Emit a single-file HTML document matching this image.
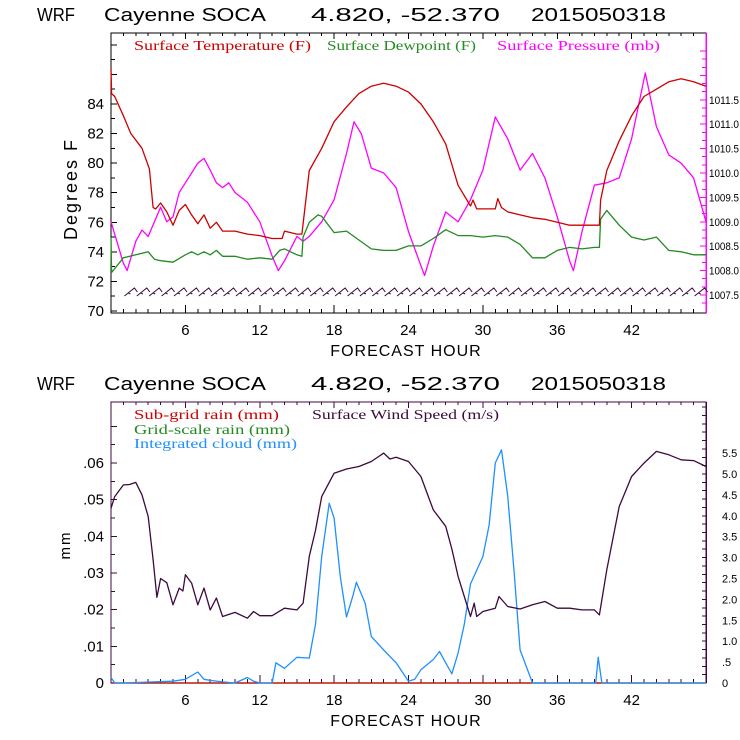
<!DOCTYPE html>
<html><head><meta charset="utf-8"><style>
html,body{margin:0;padding:0;background:#fff;}
svg{display:block;}
.t{font-family:"Liberation Sans",sans-serif;fill:#000;}
.lg{font-family:"Liberation Serif",serif;font-size:14px;}
</style></head><body>
<svg id="c" width="740" height="740" viewBox="0 0 740 740" xmlns="http://www.w3.org/2000/svg">
<g class="t" font-size="18">
<text x="37" y="21" textLength="38" lengthAdjust="spacingAndGlyphs">WRF</text>
<text x="104" y="21" textLength="162" lengthAdjust="spacingAndGlyphs">Cayenne SOCA</text>
<text x="311" y="21" textLength="189" lengthAdjust="spacingAndGlyphs">4.820, -52.370</text>
<text x="531" y="21" textLength="135" lengthAdjust="spacingAndGlyphs">2015050318</text>
</g>
<g class="t" font-size="18">
<text x="37" y="390" textLength="38" lengthAdjust="spacingAndGlyphs">WRF</text>
<text x="104" y="390" textLength="162" lengthAdjust="spacingAndGlyphs">Cayenne SOCA</text>
<text x="311" y="390" textLength="189" lengthAdjust="spacingAndGlyphs">4.820, -52.370</text>
<text x="531" y="390" textLength="135" lengthAdjust="spacingAndGlyphs">2015050318</text>
</g>
<text class="lg" x="134" y="50" fill="#cc0000" textLength="177" lengthAdjust="spacingAndGlyphs">Surface Temperature (F)</text>
<text class="lg" x="327" y="50" fill="#228b22" textLength="149" lengthAdjust="spacingAndGlyphs">Surface Dewpoint (F)</text>
<text class="lg" x="497" y="50" fill="#ff00ff" textLength="163" lengthAdjust="spacingAndGlyphs">Surface Pressure (mb)</text>
<text class="lg" x="134" y="419" fill="#cc0000" textLength="145" lengthAdjust="spacingAndGlyphs">Sub-grid rain (mm)</text>
<text class="lg" x="312" y="419" fill="#3c0a3c" textLength="187" lengthAdjust="spacingAndGlyphs">Surface Wind Speed (m/s)</text>
<text class="lg" x="134" y="434" fill="#228b22" textLength="156" lengthAdjust="spacingAndGlyphs">Grid-scale rain (mm)</text>
<text class="lg" x="134" y="448" fill="#1e90ff" textLength="163" lengthAdjust="spacingAndGlyphs">Integrated cloud (mm)</text>
<text class="t" transform="translate(77,189) rotate(-90)" text-anchor="middle" font-size="18" letter-spacing="2">Degrees F</text>
<text class="t" transform="translate(70,545) rotate(-90)" text-anchor="middle" font-size="15" letter-spacing="2">mm</text>
<text class="t" x="406" y="356" text-anchor="middle" font-size="16" letter-spacing="1">FORECAST HOUR</text>
<text class="t" x="406" y="726" text-anchor="middle" font-size="16" letter-spacing="1">FORECAST HOUR</text>
</svg>
<script>
const xTickLabels = [6,12,18,24,30,36,42];
const tempTicks = [70,72,74,76,78,80,82,84];
const presTicks = ['1007.5','1008.0','1008.5','1009.0','1009.5','1010.0','1010.5','1011.0','1011.5'];
const mmTicks = ['0','.01','.02','.03','.04','.05','.06'];
const windTicks = ['0','.5','1.0','1.5','2.0','2.5','3.0','3.5','4.0','4.5','5.0','5.5'];

const tempHours = [0,0.05,0.3,1,1.6,2.5,3.1,3.4,3.6,4,4.5,5,5.5,6,6.5,7,7.5,8,8.5,9,10,11,12,13,13.8,14,15,15.4,16,17,18,19,20,21,22,23,24,25,26,27,28,29,29.2,29.5,30,31,31.2,31.5,32,33,34,35,36,37,38,39,39.4,39.5,40,41,42,43,44,45,46,47,48];
const tempVals  = [86.4,84.7,84.5,83.2,82,81,79.6,77,76.9,77.3,76.7,75.8,76.8,77.2,76.5,75.9,76.5,75.6,76,75.4,75.4,75.2,75.1,74.9,74.9,75.4,75.2,75.2,79.5,81,82.8,83.8,84.7,85.2,85.4,85.2,84.8,84,82.8,81.3,78.5,77.1,77.5,76.9,76.9,76.9,77.6,77,76.7,76.5,76.3,76.2,76,75.8,75.8,75.8,75.8,77.5,79.5,81.5,83.2,84.5,85,85.5,85.7,85.5,85.2];
const dewHours = [0,0.05,1,2,3,3.5,4,5,6,6.5,7,7.5,8,8.5,9,10,11,12,13,13.6,14,15,15.4,15.5,16,16.7,17,18,19,20,21,22,23,24,25,26,27,28,29,30,31,32,33,34,35,36,37,38,39,39.4,39.5,40,41,42,43,44,45,46,47,48];
const dewVals  = [75,72.6,73.6,73.8,74,73.5,73.4,73.3,73.8,74,73.8,74,73.8,74.1,73.7,73.7,73.5,73.6,73.5,74.1,74.2,73.8,73.7,75,76,76.5,76.4,75.3,75.4,74.8,74.2,74.1,74.1,74.4,74.4,74.9,75.5,75.1,75.1,75,75.1,75,74.5,73.6,73.6,74.1,74.3,74.2,74.3,74.3,76.2,76.8,75.8,75,74.8,75,74.1,74,73.8,73.8];
const presHours = [0,1,1.3,2,2.5,3,4,4.5,5,5.5,6,6.5,7,7.5,8,8.5,9,9.5,10,11,12,13,13.5,14,15,15.5,16,17,18,19,19.6,20.2,21,22,23,24,25,25.3,26,27,28,29,30,31,32,33,34,35,36,37,37.3,38,39,40,41,42,43.1,44,45,46,47,48];
const presVals  = [1009,1008.15,1008,1008.6,1008.83,1008.7,1009.3,1009,1009.1,1009.6,1009.8,1010,1010.2,1010.3,1010.06,1009.8,1009.7,1009.8,1009.6,1009.4,1009,1008.3,1008,1008.2,1008.7,1008.6,1008.7,1009,1009.45,1010.4,1011.05,1010.8,1010.1,1010,1009.7,1008.8,1008.1,1007.9,1008.5,1009.2,1009,1009.45,1010.06,1011.15,1010.7,1010.06,1010.4,1009.9,1009.1,1008.2,1008,1008.8,1009.75,1009.8,1009.9,1010.7,1012.05,1010.95,1010.37,1010.2,1009.9,1009];
const windHours = [0,0.3,1,1.5,2,2.5,3,3.4,3.7,4,4.5,5,5.5,5.8,6,6.5,7,7.5,8,8.5,9,10,11,11.5,12,13,14,15,15.5,16,16.5,17,18,19,20,21,22,22.5,23,24,25,26,27,27.5,28,28.5,29,29.3,29.5,30,31,31.3,32,33,34,35,36,37,38,39,39.4,40,41,42,43,44,45,46,47,48];
const windVals  = [4.18,4.46,4.74,4.75,4.8,4.5,3.98,2.95,2.05,2.5,2.4,1.87,2.27,2.2,2.59,2.39,1.87,2.27,1.75,2.03,1.59,1.69,1.55,1.71,1.61,1.61,1.79,1.75,1.91,3.03,3.65,4.46,5.02,5.12,5.18,5.3,5.5,5.36,5.4,5.3,4.94,4.14,3.75,3.2,2.55,2.07,1.59,1.91,1.59,1.71,1.79,2.07,1.83,1.77,1.87,1.95,1.79,1.79,1.75,1.75,1.63,2.71,4.22,4.94,5.26,5.54,5.46,5.34,5.32,5.18];
const cloudHours = [0,0.3,1,5,6,7,7.5,8,9,10,11,11.5,12,13,13.3,14,15,16,16.5,17,17.6,18,18.5,19,19.5,19.8,20.5,21,22,23,24,24.5,25,26,26.5,27,27.5,28,28.5,29,30,30.5,31,31.5,32,32.5,33,34,39.1,39.3,39.6,48];
const cloudVals  = [0.0015,0,0,0.0005,0.001,0.003,0.001,0.0007,0.0003,0,0.0015,0.0005,0,0,0.0055,0.004,0.007,0.0068,0.016,0.0345,0.049,0.045,0.029,0.018,0.0236,0.0275,0.0218,0.0127,0.009,0.0055,0.0005,0.001,0.0036,0.0064,0.0086,0.0055,0.0025,0.0082,0.016,0.027,0.0345,0.043,0.06,0.0636,0.051,0.031,0.009,0,0,0.007,0,0];
const subgridHours = [0,3,4,14,16,34,48];
const subgridVals  = [0,0,0,0,0,0,0];
const gridHours = [0,48];
const gridVals  = [0,0];

const NS='http://www.w3.org/2000/svg';
const svg=document.getElementById('c');
const L=111,R=706;
const xs=h=>L+(R-L)*h/48;
const yT=v=>311-(v-70)*14.79;
const yP=v=>295-(v-1007.5)*48.8;
const yM=v=>683-v*3667;
const yW=v=>683-v*41.8;
function mk(tag,attrs){const e=document.createElementNS(NS,tag);for(const k in attrs)e.setAttribute(k,attrs[k]);svg.appendChild(e);return e;}
function line(x1,y1,x2,y2,c,w){return mk('line',{x1,y1,x2,y2,stroke:c,'stroke-width':w||1,'shape-rendering':'crispEdges'});}
function txt(x,y,s,size,anchor,fill){const e=mk('text',{x,y,'font-size':size,'text-anchor':anchor||'start',fill:fill||'#000','font-family':'Liberation Sans, sans-serif'});e.textContent=s;return e;}
function series(hours,vals,yf,color,name){
  const d=hours.map((h,i)=>(i?'L':'M')+xs(h).toFixed(1)+' '+yf(vals[i]).toFixed(1)).join(' ');
  const p=mk('path',{d,fill:'none',stroke:color,'stroke-width':1.3,'stroke-linejoin':'round'});
  
  
}
function frame(top,bot,rightColor,leftColor,name){
  const g=mk('rect',{x:L,y:top,width:R-L,height:bot-top,fill:'none',stroke:leftColor,'stroke-width':1,'shape-rendering':'crispEdges'});
  
  
  line(R,top,R,bot,rightColor,1.5);
  for(let h=1;h<48;h++){
    const big=h%6===0;
    line(xs(h),bot,xs(h),bot-(big?8:4),leftColor);
    line(xs(h),top,xs(h),top+(big?6:3),leftColor);
  }
  xTickLabels.forEach(h=>{const t=txt(xs(h),bot+22,String(h),15,'middle');
    
    });
}
// top chart
frame(33,313,'#ff00ff','#000','top-plot-frame');
for(let v=70;v<=88;v++){line(L,yT(v),L+(v%2===0?6:4),yT(v),'#000');}
tempTicks.forEach(v=>{const t=txt(104,yT(v)+5,String(v),15,'end');
  
  });
for(let k=-1;k<=30;k++){const y=yP(1007.5+k/6);if(y>34&&y<313)line(R,y,R-(k%3===0?6:4),y,'#ff00ff');}
presTicks.forEach(s=>{const t=txt(709,yP(parseFloat(s))+4,s,11,'start');
  t.setAttribute('textLength', '30');
  t.setAttribute('lengthAdjust', 'spacingAndGlyphs');
  
  });
series(presHours,presVals,yP,'#ff00ff','pressure-line');
series(dewHours,dewVals,yT,'#228b22','dewpoint-line');
series(tempHours,tempVals,yT,'#cc0000','temperature-line');
// wind barbs
let bd='';
for(let h=1;h<48;h++){const x=xs(h)+1;bd+=`M${x} 296 L${x+10} 288 L${x+13} 292 M${x+4} 293 L${x+6} 294 `;}
const b=mk('path',{d:bd,fill:'none',stroke:'#3c0a3c','stroke-width':1});


// bottom chart
frame(402,683,'#3c0a3c','#3c0a3c','bottom-plot-frame');
for(let k=1;k<=14;k++){const v=k*0.005;const y=yM(v);if(y>403)line(L,y,L+(k%2===0?6:4),y,'#3c0a3c');}
mmTicks.forEach((s,i)=>{const t=txt(104,yM(i*0.01)+5,s,15,'end');
  
  });
for(let k=1;k<=33;k++){const y=yW(k*0.2);if(y>403)line(R,y,R-4,y,'#3c0a3c');}
windTicks.forEach((s,i)=>{const t=txt(722,yW(i*0.5)+4,s,11,'start');
  
  });
series(gridHours,gridVals,yM,'#228b22','gridscale-rain-line');
series(subgridHours,subgridVals,yM,'#cc0000','subgrid-rain-line');
series(cloudHours,cloudVals,yM,'#1e90ff','cloud-line');
series(windHours,windVals,yW,'#3c0a3c','wind-speed-line');
</script>
</body></html>
